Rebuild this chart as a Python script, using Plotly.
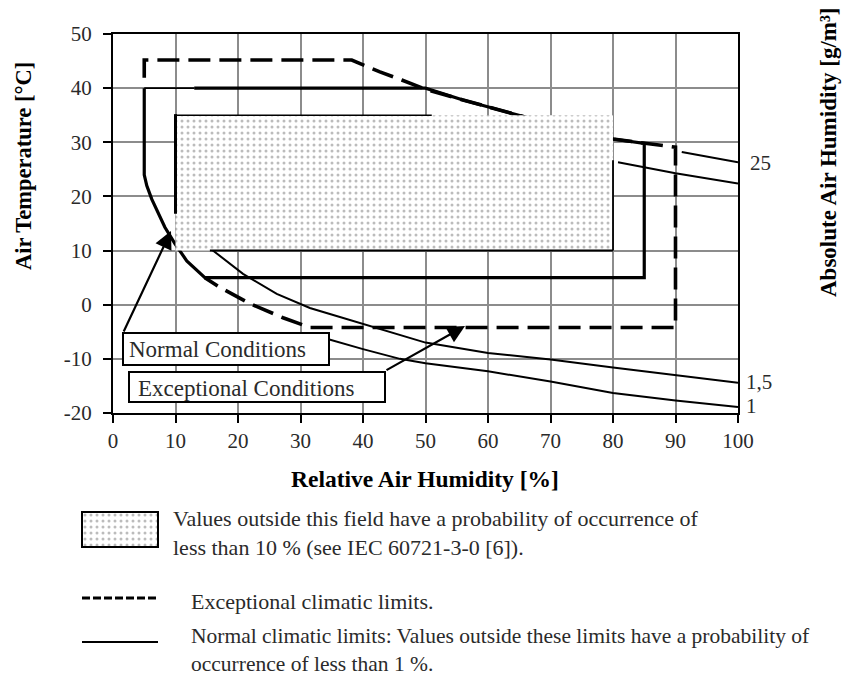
import plotly.graph_objects as go

# the page body margin is removed (see post_script), so the figure fills the 862x680 window
OX, OY = 0, 0
W, H = 862, 680

# ---------------- data ----------------
x_ticks = [0, 10, 20, 30, 40, 50, 60, 70, 80, 90, 100]
x_tick_labels = ["0", "10", "20", "30", "40", "50", "60", "70", "80", "90", "100"]
y_ticks = [-20, -10, 0, 10, 20, 30, 40, 50]
y_tick_labels = ["-20", "-10", "0", "10", "20", "30", "40", "50"]

# 10 % probability field (stippled)
field_rh = [10, 80]
field_temp = [10, 35]

# Normal climatic limits (thick solid)
normal_rh = [13, 50, 56, 63.8, 70, 80, 85, 85, 14.7, 11.8, 9.9, 8.3, 7.2, 6.2, 5.4, 5.0, 5.0]
normal_temp = [40, 40, 37.8, 35.4, 33.4, 30.6, 29.8, 5.0, 5.0, 8.1, 11.3, 14.3, 17.0, 19.5, 22.0, 24.0, 40]
normal_top_thin_rh = [5, 13]
normal_top_thin_temp = [40, 40]

# Exceptional climatic limits (dashed)
exc_rh = [5, 5, 38.2, 42.7, 46.2, 50, 56, 63.8, 70, 80, 87, 90, 90, 31.5, 27.2, 21.9, 17.1, 14.7]
exc_temp = [41.9, 45.2, 45.2, 43.0, 41.5, 39.8, 37.8, 35.4, 33.4, 30.6, 29.6, 29.1, -4.2, -4.2, -2.4, 0.2, 3.2, 5.0]

# Absolute humidity isolines (thin)
abs15_rh = [15, 20.8, 26.2, 31.5, 34.7, 40, 50, 60, 70, 80, 90, 100]
abs15_temp = [10.9, 5.7, 2.0, -0.6, -1.7, -3.5, -7.0, -8.9, -10.1, -11.6, -13.0, -14.4]
abs1_rh = [31, 34.2, 40, 45.9, 50, 60, 70, 80, 90, 100]
abs1_temp = [-5.8, -6.3, -8.2, -10.0, -10.8, -12.3, -14.2, -16.3, -17.7, -18.9]
abs25_rh = [91, 95.5, 100]
abs25_temp = [28.2, 27.2, 26.3]
abs20_rh = [80.8, 90, 100]
abs20_temp = [26.3, 24.3, 22.4]

# field outline pieces
field_left_temp = [16.8, 35.2]
field_top_rh = [10, 51]
field_right_temp = [26.7, 10]
field_bottom_rh = [15.5, 80]

FONT = "Liberation Serif"
TXT = "#2a2a2a"


def px(x, y):
    """window pixel -> paper coords"""
    return (x - OX) / W, 1 - (y - OY) / H


fig = go.Figure()


def line(xs, ys, width, dash="solid", color="black"):
    fig.add_trace(go.Scatter(x=xs, y=ys, mode="lines", showlegend=False, hoverinfo="skip",
                             line=dict(color=color, width=width, dash=dash)))


# thin isolines
line(abs15_rh, abs15_temp, 2)
line(abs1_rh, abs1_temp, 2)
line(abs25_rh, abs25_temp, 2)
line(abs20_rh, abs20_temp, 2)

# normal limits
line(normal_rh, normal_temp, 3.2)
line(normal_top_thin_rh, normal_top_thin_temp, 1.6)

# exceptional limits
line(exc_rh, exc_temp, 3.6, dash="22px,9px")

PATTERN = dict(shape=".", fgcolor="#7a7a7a", bgcolor="white", size=6, solidity=0.2)

# stippled field
fx = [field_rh[0], field_rh[1], field_rh[1], field_rh[0], field_rh[0]]
fy = [field_temp[0], field_temp[0], field_temp[1], field_temp[1], field_temp[0]]
fig.add_trace(go.Scatter(x=fx, y=fy, mode="lines", fill="toself", showlegend=False, hoverinfo="skip",
                         line=dict(width=0, color="rgba(0,0,0,0)"), fillcolor="white",
                         fillpattern=PATTERN))

# field outline
line([field_rh[0], field_rh[0]], field_left_temp, 3)
line(field_top_rh, [field_temp[1], field_temp[1]], 1.6)
line([field_rh[1], field_rh[1]], field_right_temp, 1.8)
line(field_bottom_rh, [field_temp[0], field_temp[0]], 2)

# legend swatch (stipple) on its own hidden axes
fig.add_trace(go.Scatter(x=[0, 1, 1, 0, 0], y=[0, 0, 1, 1, 0], mode="lines", fill="toself",
                         showlegend=False, hoverinfo="skip", xaxis="x2", yaxis="y2",
                         line=dict(width=0, color="rgba(0,0,0,0)"), fillcolor="white",
                         fillpattern=PATTERN))

axis_common = dict(showgrid=True, gridcolor="#8c8c8c", gridwidth=1.5, zeroline=False,
                   showline=True, linecolor="black", linewidth=2, mirror=True,
                   ticks="outside", ticklen=8, tickwidth=1.5, tickcolor="black",
                   tickfont=dict(family=FONT, size=21, color=TXT), tickmode="array")

x0p, _ = px(113, 0)
x1p, _ = px(738, 0)
_, ybot = px(0, 413)
_, ytop = px(0, 34)
sx0, _ = px(82, 0)
sx1, _ = px(158, 0)
_, sy0 = px(0, 547)
_, sy1 = px(0, 512)

fig.update_layout(
    width=W, height=H, margin=dict(l=0, r=0, t=0, b=0, autoexpand=False),
    paper_bgcolor="white", plot_bgcolor="white", showlegend=False,
    xaxis=dict(domain=[x0p, x1p], range=[0, 100], tickvals=x_ticks, ticktext=x_tick_labels,
               anchor="y", ticklabelstandoff=0, **axis_common),
    yaxis=dict(domain=[ybot, ytop], range=[-20, 50], tickvals=y_ticks,
               ticktext=y_tick_labels, anchor="x", ticklabelstandoff=7, **axis_common),
    xaxis2=dict(domain=[sx0, sx1], range=[0, 1], visible=False, anchor="y2", fixedrange=True),
    yaxis2=dict(domain=[sy0, sy1], range=[0, 1], visible=False, anchor="x2", fixedrange=True),
)

shapes = []
annots = []


def rect(x0, y0, x1, y1, fill="white", lw=2):
    a = px(x0, y0)
    b = px(x1, y1)
    shapes.append(dict(type="rect", xref="paper", yref="paper", x0=a[0], y0=b[1], x1=b[0], y1=a[1],
                       fillcolor=fill, line=dict(color="black", width=lw), layer="above"))


def hline(x0, x1, y, lw, dash="solid"):
    a = px(x0, y)
    b = px(x1, y)
    shapes.append(dict(type="line", xref="paper", yref="paper", x0=a[0], y0=a[1], x1=b[0], y1=b[1],
                       line=dict(color="black", width=lw, dash=dash), layer="above"))


def text(x, y, s, size=21, xanchor="left", bold=False, angle=0):
    p = px(x, y)
    annots.append(dict(xref="paper", yref="paper", x=p[0], y=p[1], text=f"<b>{s}</b>" if bold else s,
                       showarrow=False, xanchor=xanchor, yanchor="middle", textangle=angle, align="left",
                       font=dict(family=FONT, size=size, color=TXT if not bold else "black")))


def arrow(tipx, tipy, tailx, taily):
    p = px(tipx, tipy)
    annots.append(dict(xref="paper", yref="paper", x=p[0], y=p[1], ax=tailx - tipx, ay=taily - tipy,
                       axref="pixel", ayref="pixel", text="", showarrow=True, arrowhead=2,
                       arrowsize=1.6, arrowwidth=2.2, arrowcolor="black", standoff=0))


# condition boxes
rect(123, 333, 329, 365)
text(127, 350, "Normal Conditions", size=23)
rect(129, 372, 385, 402)
text(136, 388, "Exceptional Conditions", size=23)
arrow(171, 231, 123, 333)
arrow(465, 326, 385, 371)

# isoline labels
text(748, 163, "25", size=21)
text(744, 382, "1,5", size=21)
text(744, 406, "1", size=21)

# axis titles
text(425, 479, "Relative Air Humidity [%]", size=23.5, xanchor="center", bold=True)
text(23, 166, "Air Temperature [°C]", size=22.5, xanchor="center", bold=True, angle=-90)
text(828, 152, "Absolute Air Humidity [g/m³]", size=23, xanchor="center", bold=True, angle=-90)

# legend
rect(82, 512, 158, 547, fill="rgba(0,0,0,0)", lw=2)
text(171, 532.5, "Values outside this field have a probability of occurrence of<br>"
                 "less than 10 % (see IEC 60721-3-0 [6]).", size=22)
hline(82, 158, 598, 3, dash="8px,3px")
text(189, 601, "Exceptional climatic limits.", size=22)
hline(82, 158, 642, 2.2)
text(189, 650, "Normal climatic limits: Values outside these limits have a probability of<br>"
               "occurrence of less than 1 %.", size=21.5)

fig.update_layout(shapes=shapes, annotations=annots)
fig.write_html("out.html", config={"displayModeBar": False},
               post_script="document.body.style.margin='0px';document.body.style.overflow='hidden';")
